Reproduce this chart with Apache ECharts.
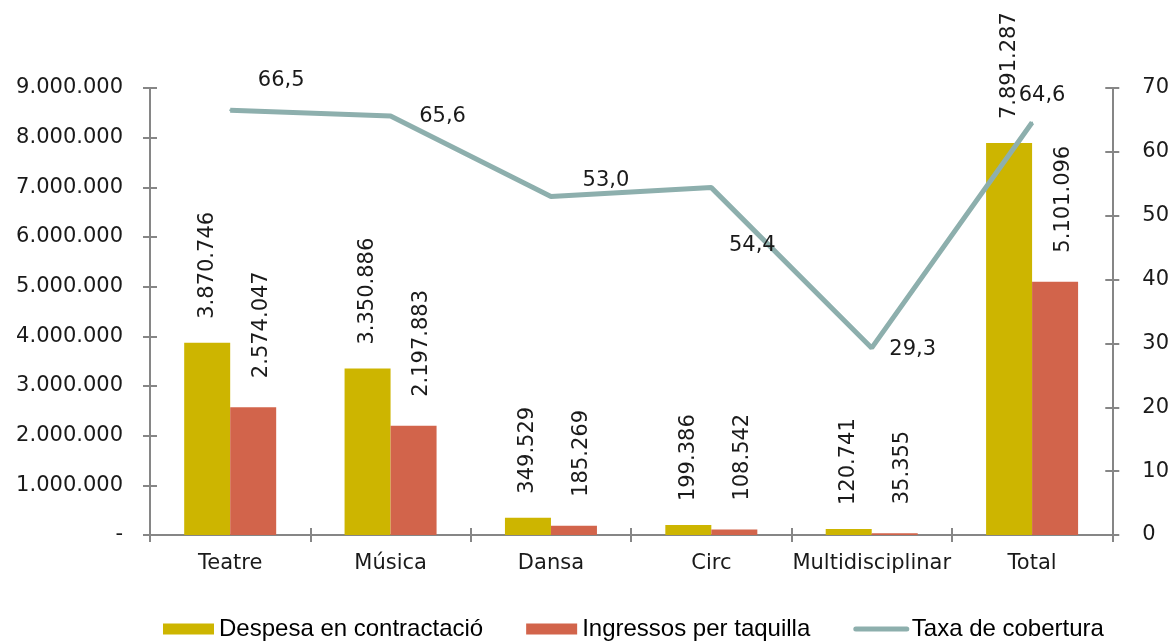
<!DOCTYPE html>
<html>
<head>
<meta charset="utf-8">
<script src="https://cdn.jsdelivr.net/npm/echarts@6/dist/echarts.min.js"></script>
<style>html,body{margin:0;padding:0;background:#fff}#c{width:1172px;height:641px}</style>
</head>
<body>
<div id="c"></div>
<script>
var categories = ['Teatre', 'Música', 'Dansa', 'Circ', 'Multidisciplinar', 'Total'];
var despesa = [3870746, 3350886, 349529, 199386, 120741, 7891287];
var ingressos = [2574047, 2197883, 185269, 108542, 35355, 5101096];
var taxa = [66.5, 65.6, 53.0, 54.4, 29.3, 64.6];
var leftTicks = { min: 0, max: 9000000, interval: 1000000 };
var rightTicks = { min: 0, max: 70, interval: 10 };

// label placement offsets (style only)
var taxaLabelOffsets = [[51, -30], [52, 0], [55, -16], [41, 58], [41, 2], [10, -27]];

var FONT = 'DejaVu Sans';
var TXT = '#1a1a1a';
var AX = '#868686';
var LINEC = '#8DAFAD';

function dots(n) {
  return String(Math.round(n)).replace(/\B(?=(\d{3})+(?!\d))/g, '.');
}

var chart = echarts.init(document.getElementById('c'));

chart.setOption({
  animation: false,
  textStyle: { fontFamily: FONT },
  grid: { left: 150, right: 59, top: 88, bottom: 106, containLabel: false },
  legend: {
    left: 158, top: 612,
    itemWidth: 51, itemHeight: 11, itemGap: 43,
    textStyle: { fontFamily: 'Liberation Sans', fontSize: 24, color: '#000' },
    data: [
      { name: 'Despesa en contractació', icon: 'rect' },
      { name: 'Ingressos per taquilla', icon: 'rect' },
      { name: 'Taxa de cobertura', itemStyle: { color: 'rgba(0,0,0,0)', borderWidth: 0 },
        lineStyle: { width: 5, color: LINEC, cap: 'round' } }
    ]
  },
  xAxis: [{
    type: 'category', data: categories, position: 'bottom',
    axisLine: { show: true, lineStyle: { color: AX, width: 2 } },
    axisTick: { show: true, length: 7, inside: false, lineStyle: { color: AX, width: 2 } },
    axisLabel: { fontFamily: FONT, fontSize: 21, color: TXT, margin: 18, interval: 0 }
  }, {
    type: 'category', data: categories, position: 'bottom', offset: 0,
    axisLine: { show: false },
    axisTick: { show: true, length: 7, inside: true, lineStyle: { color: AX, width: 2 } },
    axisLabel: { show: false }
  }],
  yAxis: [{
    type: 'value', position: 'left', min: leftTicks.min, max: leftTicks.max, interval: leftTicks.interval,
    axisLine: { show: true, lineStyle: { color: AX, width: 2 } },
    axisTick: { show: true, length: 7, lineStyle: { color: AX, width: 2 } },
    splitLine: { show: false },
    axisLabel: {
      fontFamily: FONT, fontSize: 21, color: TXT, margin: 27,
      formatter: function (v) { return v === 0 ? '-' : dots(v); }
    }
  }, {
    type: 'value', position: 'right', min: rightTicks.min, max: rightTicks.max, interval: rightTicks.interval,
    axisLine: { show: true, lineStyle: { color: AX, width: 2 } },
    axisTick: { show: true, length: 7, lineStyle: { color: AX, width: 2 } },
    splitLine: { show: false },
    axisLabel: { fontFamily: FONT, fontSize: 21, color: TXT, margin: 30 }
  }, {
    type: 'value', position: 'left', offset: 0, min: leftTicks.min, max: leftTicks.max, interval: leftTicks.interval,
    axisLine: { show: false },
    axisTick: { show: true, inside: true, length: 7, lineStyle: { color: AX, width: 2 } },
    splitLine: { show: false }, axisLabel: { show: false }
  }, {
    type: 'value', position: 'right', offset: 0, min: rightTicks.min, max: rightTicks.max, interval: rightTicks.interval,
    axisLine: { show: false },
    axisTick: { show: true, inside: true, length: 7, lineStyle: { color: AX, width: 2 } },
    splitLine: { show: false }, axisLabel: { show: false }
  }],
  series: [{
    name: 'Despesa en contractació', type: 'bar', xAxisIndex: 0, yAxisIndex: 0,
    data: despesa, barWidth: 46, barGap: '0%',
    itemStyle: { color: '#CDB500' },
    label: {
      show: true, position: 'top', distance: 24, rotate: 90, align: 'left', verticalAlign: 'middle',
      fontFamily: FONT, fontSize: 21, color: TXT,
      formatter: function (p) { return dots(p.value); }
    }
  }, {
    name: 'Ingressos per taquilla', type: 'bar', xAxisIndex: 0, yAxisIndex: 0,
    data: ingressos, barWidth: 46, barGap: '0%',
    itemStyle: { color: '#D2644B' },
    label: {
      show: true, position: 'top', distance: 29, rotate: 90, align: 'left', verticalAlign: 'middle',
      offset: [0, 8],
      fontFamily: FONT, fontSize: 21, color: TXT,
      formatter: function (p) { return dots(p.value); }
    }
  }, {
    name: 'Taxa de cobertura', type: 'line', xAxisIndex: 0, yAxisIndex: 1,
    data: taxa.map(function (v, i) {
      return { value: v, label: { offset: taxaLabelOffsets[i] } };
    }),
    symbol: 'circle', symbolSize: 2, showSymbol: true, z: 5,
    lineStyle: { color: LINEC, width: 5 },
    itemStyle: { color: LINEC },
    label: {
      show: true, position: 'inside', fontFamily: FONT, fontSize: 21, color: TXT,
      formatter: function (p) { return p.value.toFixed(1).replace('.', ','); }
    }
  }]
});
</script>
</body>
</html>
